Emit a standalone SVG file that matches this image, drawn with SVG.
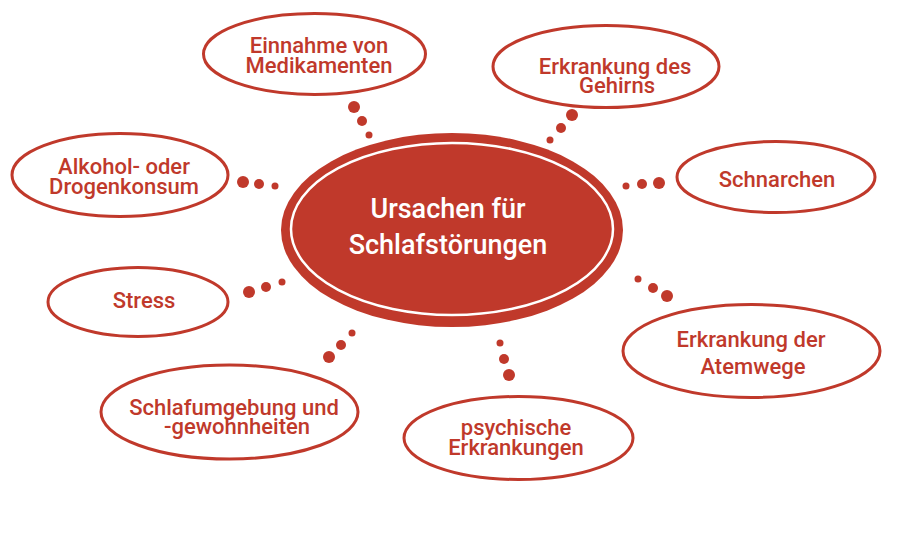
<svg xmlns="http://www.w3.org/2000/svg" width="900" height="540" viewBox="0 0 900 540">
<style>
.n{fill:#fff;stroke:#c0392b;stroke-width:3}
.t{font-family:Roboto,"Liberation Sans",sans-serif;font-size:22px;font-weight:500;fill:#c0392b;text-anchor:middle}
.c{font-family:Roboto,"Liberation Sans",sans-serif;font-size:27px;font-weight:500;fill:#fff;text-anchor:middle}
.d{fill:#c0392b}
</style>
<rect width="900" height="540" fill="#fff"/>
<g id="connectors">
<circle class="d" cx="354" cy="107" r="6"/><circle class="d" cx="362" cy="121" r="5"/><circle class="d" cx="369" cy="135" r="3.5"/>
<circle class="d" cx="243" cy="182" r="6"/><circle class="d" cx="259" cy="184" r="5"/><circle class="d" cx="275" cy="186" r="3.5"/>
<circle class="d" cx="572" cy="115" r="6"/><circle class="d" cx="561" cy="128" r="5"/><circle class="d" cx="550" cy="140" r="3.5"/>
<circle class="d" cx="659" cy="183" r="6"/><circle class="d" cx="642" cy="184" r="5"/><circle class="d" cx="626" cy="186" r="3.5"/>
<circle class="d" cx="249" cy="292" r="6"/><circle class="d" cx="266" cy="287" r="5"/><circle class="d" cx="282" cy="282" r="3.5"/>
<circle class="d" cx="329" cy="357" r="6"/><circle class="d" cx="341" cy="345" r="5"/><circle class="d" cx="352" cy="333" r="3.5"/>
<circle class="d" cx="638" cy="279" r="3.5"/><circle class="d" cx="653" cy="288" r="5"/><circle class="d" cx="667" cy="296" r="6"/>
<circle class="d" cx="500" cy="343" r="3.5"/><circle class="d" cx="504" cy="359" r="5"/><circle class="d" cx="509" cy="375" r="6"/>
</g>
<g id="center">
<ellipse cx="452" cy="230" rx="171" ry="97" fill="#c0392b"/>
<ellipse cx="452" cy="229" rx="161" ry="86" fill="none" stroke="#fff" stroke-width="2.5"/>
<text class="c" x="448" y="218">Ursachen für</text>
<text class="c" x="448" y="254">Schlafstörungen</text>
</g>
<g id="medikamente">
<ellipse class="n" cx="314.5" cy="54" rx="111" ry="40.5"/>
<text class="t" x="319" y="53">Einnahme von</text>
<text class="t" x="319" y="73">Medikamenten</text>
</g>
<g id="alkohol">
<ellipse class="n" cx="120" cy="175" rx="108" ry="41.5"/>
<text class="t" x="124" y="174">Alkohol- oder</text>
<text class="t" x="124" y="194">Drogenkonsum</text>
</g>
<g id="gehirn">
<ellipse class="n" cx="606" cy="66.5" rx="113" ry="41"/>
<text class="t" x="615" y="74">Erkrankung des</text>
<text class="t" x="617" y="93">Gehirns</text>
</g>
<g id="schnarchen">
<ellipse class="n" cx="776" cy="177" rx="99" ry="35.5"/>
<text class="t" x="777" y="187">Schnarchen</text>
</g>
<g id="stress">
<ellipse class="n" cx="138" cy="302" rx="90" ry="34.5"/>
<text class="t" x="144" y="308">Stress</text>
</g>
<g id="schlafumgebung">
<ellipse class="n" cx="229.5" cy="412" rx="128.5" ry="47"/>
<text class="t" x="234" y="415">Schlafumgebung und</text>
<text class="t" x="237" y="434">-gewohnheiten</text>
</g>
<g id="atemwege">
<ellipse class="n" cx="751.5" cy="351" rx="128.5" ry="46.5"/>
<text class="t" x="751" y="347">Erkrankung der</text>
<text class="t" x="753" y="374">Atemwege</text>
</g>
<g id="psychisch">
<ellipse class="n" cx="518.5" cy="438" rx="114.5" ry="41.5"/>
<text class="t" x="516" y="435">psychische</text>
<text class="t" x="516" y="455">Erkrankungen</text>
</g>
</svg>
